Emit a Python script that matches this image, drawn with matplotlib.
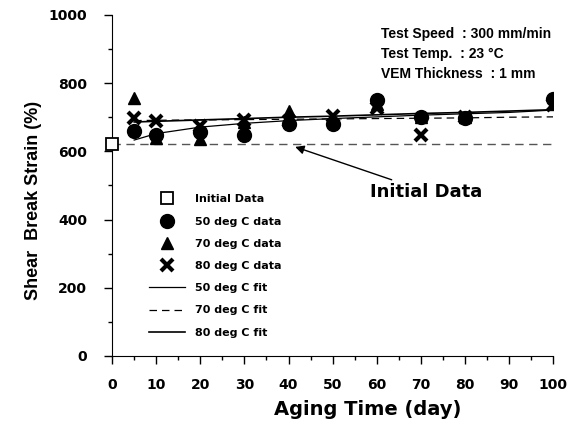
import matplotlib
matplotlib.use("Agg")
import matplotlib.pyplot as plt
from matplotlib.ticker import MultipleLocator

plt.rcParams['font.family'] = ['Liberation Sans', 'DejaVu Sans']
plt.rcParams['font.weight'] = 'bold'

# data
initial_x = [0]
initial_y = [620]

x50 = [5, 10, 20, 30, 40, 50, 60, 70, 80, 100]
y50 = [661, 648, 658, 648, 680, 680, 750, 701, 699, 754]

x70 = [5, 10, 20, 30, 40, 50, 60, 70, 80, 100]
y70 = [757, 640, 636, 685, 718, 690, 740, 700, 700, 740]

x80 = [5, 10, 20, 30, 40, 50, 60, 70, 80, 100]
y80 = [699, 690, 674, 692, 690, 705, 727, 648, 700, 736]

fit_x = [5, 10, 20, 30, 40, 50, 60, 70, 80, 90, 100]
fit50 = [633, 652, 671, 682, 690, 696, 701, 706, 710, 714, 721]
fit70 = [690, 691, 692, 693, 694, 695, 696, 697, 698, 700, 701]
fit80 = [686, 688, 692, 696, 700, 703, 707, 711, 714, 718, 722]

initial_line_x = [0, 100]
initial_line_y = [620, 620]

wide = 'DejaVu Sans'  # wider bold face, closer to the spaced-out lettering

fig = plt.figure(figsize=(5.75, 4.25), dpi=100)
ax = fig.add_axes([0.195, 0.1624, 0.767, 0.8026])

ax.plot(initial_line_x, initial_line_y, color='#555555', lw=1, ls=(0, (6, 4)))
ax.plot(initial_x, initial_y, 's', mfc='white', mec='black', mew=1.3, ms=9,
        label='Initial Data', clip_on=False, zorder=5)
ax.plot(x50, y50, 'o', color='black', ms=10, label='50 deg C data')
ax.plot(x70, y70, '^', color='black', ms=9, label='70 deg C data')
ax.plot(x80, y80, 'x', color='black', ms=9, mew=3, label='80 deg C data')
ax.plot(fit_x, fit50, '-', color='black', lw=0.9, label='50 deg C fit')
ax.plot(fit_x, fit70, color='black', lw=0.9, ls=(0, (6, 4)), label='70 deg C fit')
ax.plot(fit_x, fit80, '-', color='black', lw=1.2, label='80 deg C fit')

ax.set_xlim(0, 100)
ax.set_ylim(0, 1000)
ax.xaxis.set_major_locator(MultipleLocator(10))
ax.xaxis.set_minor_locator(MultipleLocator(5))
ax.yaxis.set_major_locator(MultipleLocator(200))
ax.yaxis.set_minor_locator(MultipleLocator(100))
ax.tick_params(which='both', direction='out', width=1)
ax.tick_params(which='major', length=6)
ax.tick_params(which='minor', length=3)
ax.spines['top'].set_visible(False)
ax.spines['right'].set_visible(False)
ax.tick_params(axis='x', pad=10)
ax.tick_params(axis='y', pad=12)
for lab in ax.get_xticklabels() + ax.get_yticklabels():
    lab.set_fontfamily(wide)
    lab.set_fontsize(10)
    lab.set_fontweight('bold')

ax.set_xlabel('Aging Time (day)', fontsize=14, fontweight='bold', family=wide)
ax.xaxis.set_label_coords(0.58, -0.128)
ax.set_ylabel('Shear  Break Strain (%)', fontsize=13, fontweight='bold')
ax.yaxis.set_label_coords(-0.16, 0.457)

ax.text(0.61, 0.965, 'Test Speed  : 300 mm/min\nTest Temp.  : 23 \u00b0C\nVEM Thickness  : 1 mm',
        transform=ax.transAxes, fontsize=10, fontweight='bold', va='top',
        linespacing=1.55)

ax.annotate('Initial Data', xy=(41.5, 613), xytext=(58.5, 482),
            fontsize=13, fontweight='bold', family=wide, va='center', ha='left',
            arrowprops=dict(arrowstyle='-|>', color='black', lw=1,
                            shrinkA=0, shrinkB=0))

ax.legend(loc='upper left', bbox_to_anchor=(0.073, 0.487), frameon=False,
          prop={'family': wide, 'size': 8, 'weight': 'bold'},
          handlelength=3.3, labelspacing=1.1, handletextpad=0.9,
          borderaxespad=0)

fig.savefig('out.png', dpi=100)
